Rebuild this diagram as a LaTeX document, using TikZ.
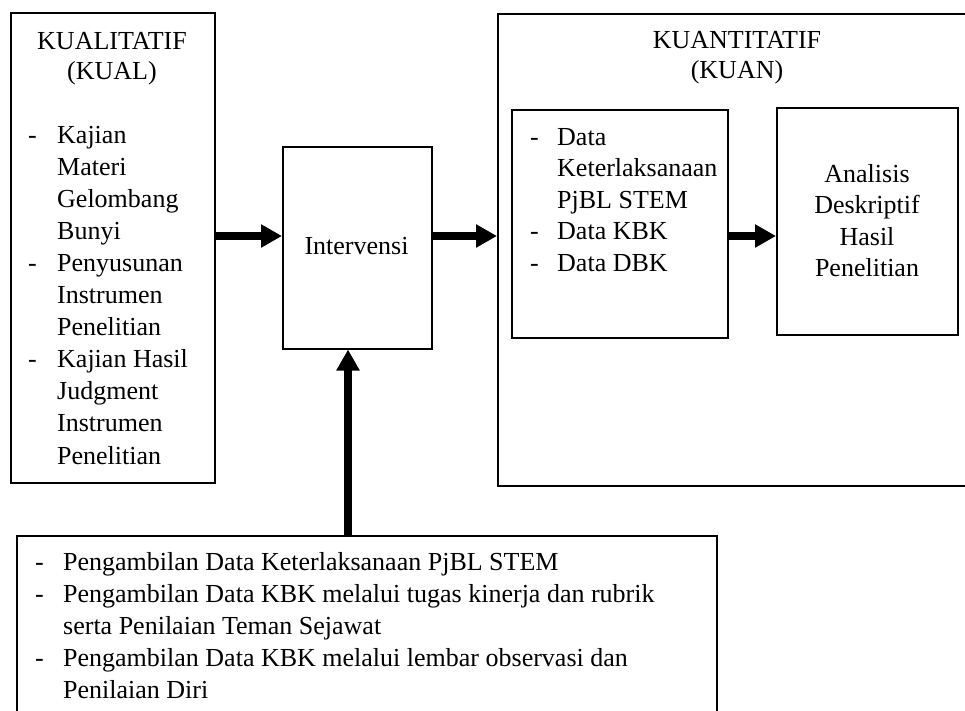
\documentclass[tikz,border=0pt]{standalone}
\usepackage{fontspec}
\setmainfont{Liberation Serif}
\usetikzlibrary{arrows.meta}
\begin{document}
\begin{tikzpicture}[x=1pt,y=-1pt,
  box/.style={draw, line width=1.5pt, inner sep=0pt, anchor=north west},
  txt/.style={inner sep=0pt, font=\fontsize{26}{31.5}\selectfont},
  bigarrow/.style={line width=8pt, -{Triangle[length=21pt,width=22pt]}}
]
\useasboundingbox (0,0) rectangle (965,710);
\clip (0,0) rectangle (965,710);

% boxes
\node[box, minimum width=204pt, minimum height=470pt] (kual) at (10,12) {};
\node[box, minimum width=480pt, minimum height=472pt] (kuan) at (497,13) {};
\node[box, minimum width=216pt, minimum height=228pt] (data) at (511,109) {};
\node[box, minimum width=181pt, minimum height=227pt] (anal) at (776,107) {};
\node[box, minimum width=149pt, minimum height=202pt] (int) at (282,146) {};
\node[box, minimum width=700pt, minimum height=200pt] (bot) at (16,535) {};

% arrows
\coordinate (ya) at (0,236);
\coordinate (xa) at (348,0);
\draw[bigarrow] (kual.east |- ya) -- (int.west |- ya);
\draw[bigarrow] (int.east |- ya) -- (kuan.west |- ya);
\draw[bigarrow] (data.east |- ya) -- (anal.west |- ya);
\draw[bigarrow] (bot.north -| xa) -- (int.south -| xa);

% left box text
\node[txt, anchor=base] (kt1) at (112,49) {KUALITATIF};
\node[txt, anchor=base] (kt2) at (112,79) {(KUAL)};
\foreach \s [count=\i from 0] in {Kajian, Materi, Gelombang, Bunyi, Penyusunan, Instrumen, Penelitian, Kajian Hasil, Judgment, Instrumen, Penelitian}
  \node[txt, anchor=base west] (kl\i) at (57,{143+32.1*\i}) {\s};
\foreach \i in {0,4,7}
  \node[txt, anchor=base west] (kd\i) at (28,{143+32.1*\i}) {-};

% intervention
\node[txt, anchor=base] (intt) at (356.5,254) {Intervensi};

% right box text
\node[txt, anchor=base] (qt1) at (737,48) {KUANTITATIF};
\node[txt, anchor=base] (qt2) at (737,78) {(KUAN)};
\foreach \s [count=\i from 0] in {Data, Keterlaksanaan, PjBL STEM, Data KBK, Data DBK}
  \node[txt, anchor=base west] (dl\i) at (557,{145+31.5*\i}) {\s};
\foreach \i in {0,3,4}
  \node[txt, anchor=base west] (dd\i) at (530,{145+31.5*\i}) {-};
\foreach \s [count=\i from 0] in {Analisis, Deskriptif, Hasil, Penelitian}
  \node[txt, anchor=base] (al\i) at (867,{182+31.6*\i}) {\s};

% bottom box text
\foreach \s [count=\i from 0] in {Pengambilan Data Keterlaksanaan PjBL STEM, Pengambilan Data KBK melalui tugas kinerja dan rubrik, serta Penilaian Teman Sejawat, Pengambilan Data KBK melalui lembar observasi dan, Penilaian Diri}
  \node[txt, anchor=base west] (bl\i) at (63,{570+32*\i}) {\s};
\foreach \i in {0,1,3}
  \node[txt, anchor=base west] (bd\i) at (35,{570+32*\i}) {-};
\end{tikzpicture}
\end{document}
